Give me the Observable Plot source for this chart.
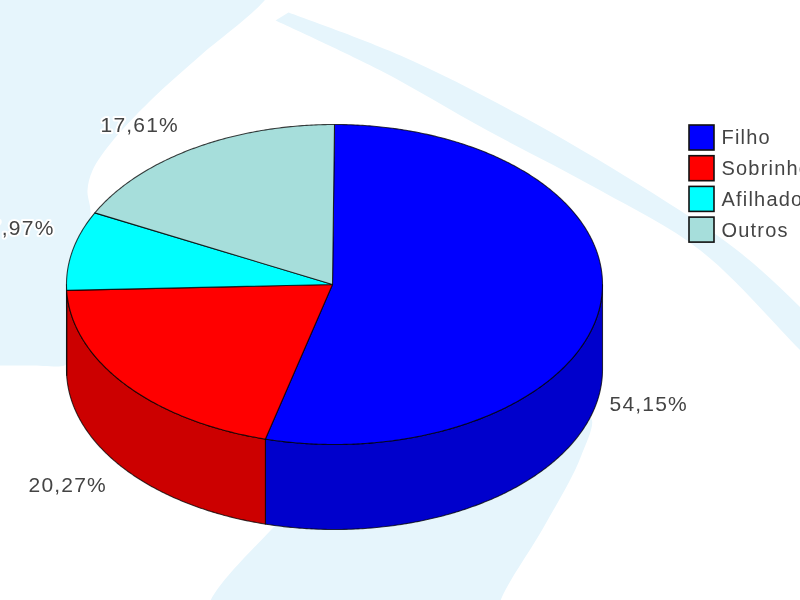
<!DOCTYPE html>
<html>
<head>
<meta charset="utf-8">
<script src="https://cdn.jsdelivr.net/npm/d3@7"></script>
<script src="https://cdn.jsdelivr.net/npm/@observablehq/plot@0.6"></script>
<style>html,body{margin:0;padding:0;background:#fff;overflow:hidden} svg{filter:blur(0.5px)}</style>
</head>
<body>
<div id="chart"></div>
<script>
// Data
const categories = ["Filho", "Sobrinho", "Afilhado", "Outros"];
const percents = [54.15, 20.27, 7.97, 17.61];
const percentLabels = ["54,15%", "20,27%", "7,97%", "17,61%"];
const topColors = ["#0000ff", "#ff0000", "#00ffff", "#a6dedb"];
const sideColors = ["#0000cc", "#cc0000", "#00cccc", "#85b2af"];

// Layout
const pie = {cx: 334, cy: 284, rx: 268, ry: 160, depth: 85};
const labelX = [609, 28, 54, 100];
const labelY = [404, 485, 228, 125];
const labelEnd = [false, false, true, false];
const legend = {x: 689, size: 25, top: 125, step: 30.7, textX: 721};

// Decorative backdrop outlines
const backdrop = [
  [[-40,-40],[290,-40],[264,0],[200,55],[150,100],[110,143],[92,170],[87,190],[90,215],[66,300],[66,362],[64,365],[30,365],[0,365],[-40,365]],
  [[288,12],[400,55],[520,115],[640,185],[737,250],[800,307],[860,370],[860,410],[800,350],[700,250],[600,190],[487,130],[380,70],[275,20]],
  [[300,500],[270,530],[210,600],[200,640],[490,640],[500,600],[543,527],[580,457],[590,417],[500,450]]
];
const backdropRows = backdrop.flatMap((s, id) => s.map(([x, y]) => ({id, x, y})));

// Geometry derived from values
const total = d3.sum(percents);
const cum = d3.cumsum(percents);
const startDeg = i => (i === 0 ? 0 : cum[i - 1]) / total * 360;
const endDeg = i => cum[i] / total * 360;
const pt = (deg, dy = 0) => {
  const a = deg * Math.PI / 180;
  return {x: pie.cx + pie.rx * Math.sin(a), y: pie.cy - pie.ry * Math.cos(a) + dy};
};
const arc = (a0, a1) => {
  const n = Math.max(2, Math.ceil(a1 - a0) * 2);
  return d3.range(n + 1).map(k => a0 + (a1 - a0) * k / n);
};

const topRows = categories.flatMap((c, i) => {
  const apex = {x: pie.cx - 2, y: pie.cy};
  const ring = arc(startDeg(i), endDeg(i)).map(d => pt(d));
  return [apex, ...ring, apex].map(p => ({...p, key: c}));
});
const sideRows = categories.flatMap((c, i) => {
  const a0 = Math.max(startDeg(i), 90), a1 = Math.min(endDeg(i), 270);
  if (a1 <= a0) return [];
  const as = arc(a0, a1);
  const upper = as.map(d => pt(d));
  const lower = as.slice().reverse().map(d => pt(d, pie.depth));
  return [...upper, ...lower, upper[0]].map(p => ({...p, key: c + " lado"}));
});
const legendRows = categories.map((c, i) => ({c, i}));
const labelRows = percentLabels.map((text, i) => ({text, x: labelX[i], y: labelY[i], end: labelEnd[i]}));
const labelStyle = {
  x: "x", y: "y", text: "text",
  fontSize: 21, fill: "#444", stroke: "#fff", strokeWidth: 4
};

const plot = Plot.plot({
  width: 800, height: 600,
  marginTop: 0, marginRight: 0, marginBottom: 0, marginLeft: 0,
  x: {domain: [0, 800], range: [0, 800], axis: null},
  y: {domain: [0, 600], range: [0, 600], axis: null},
  color: {
    domain: [...categories, ...categories.map(c => c + " lado")],
    range: [...topColors, ...sideColors]
  },
  style: {background: "#fff", fontFamily: "'Liberation Sans', Arial, sans-serif", letterSpacing: "1.2px"},
  marks: [
    Plot.line(backdropRows, {x: "x", y: "y", z: "id", fill: "#e6f5fc", stroke: null, curve: "catmull-rom"}),
    Plot.line(sideRows, {x: "x", y: "y", z: "key", fill: "key", stroke: "#000", strokeWidth: 1.1, strokeOpacity: 0.75, curve: "linear"}),
    Plot.line(topRows, {x: "x", y: "y", z: "key", fill: "key", stroke: "#000", strokeWidth: 1.1, strokeOpacity: 0.75, curve: "linear"}),
    Plot.text(labelRows.filter(d => !d.end), {...labelStyle, textAnchor: "start"}),
    Plot.text(labelRows.filter(d => d.end), {...labelStyle, textAnchor: "end"}),
    Plot.rect(legendRows, {
      x1: legend.x, x2: legend.x + legend.size,
      y1: d => legend.top + d.i * legend.step,
      y2: d => legend.top + d.i * legend.step + legend.size,
      fill: "c", stroke: "#111", strokeWidth: 1.6
    }),
    Plot.text(legendRows, {
      x: legend.textX,
      y: d => legend.top + d.i * legend.step + legend.size / 2,
      text: "c", textAnchor: "start", fontSize: 20, fill: "#444"
    })
  ]
});
document.getElementById("chart").appendChild(plot);
</script>
</body>
</html>
